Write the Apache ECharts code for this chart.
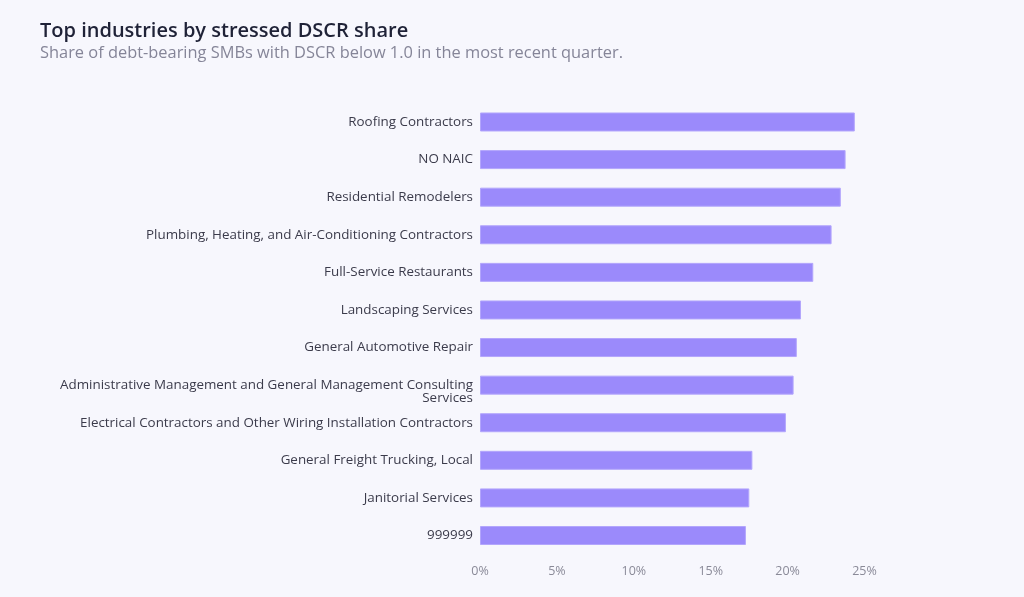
<!DOCTYPE html>
<html><head><meta charset="utf-8">
<script src="https://cdn.jsdelivr.net/npm/echarts@6/dist/echarts.min.js"></script>
<style>html,body{margin:0;padding:0;background:#f7f7fd;}#c{width:1024px;height:597px;}</style>
</head><body><div id="c"></div>
<script>
const categories = ["Roofing Contractors","NO NAIC","Residential Remodelers","Plumbing, Heating, and Air-Conditioning Contractors","Full-Service Restaurants","Landscaping Services","General Automotive Repair","Administrative Management and General Management Consulting\nServices","Electrical Contractors and Other Wiring Installation Contractors","General Freight Trucking, Local","Janitorial Services","999999"];
const shares = [24.37,23.77,23.46,22.86,21.67,20.87,20.6,20.39,19.89,17.71,17.51,17.29];
const xTicks = [0,5,10,15,20,25];

const chart = echarts.init(document.getElementById('c'), null, {renderer:'canvas'});
chart.setOption({
  backgroundColor:'#f7f7fd',
  animation:false,
  title:[
    {text:'Top industries by stressed DSCR share', left:40, top:21, padding:0,
     textStyle:{fontFamily:'Open Sans', fontSize:20, fontWeight:600, color:'#1f2237'}},
    {text:'Share of debt-bearing SMBs with DSCR below 1.0 in the most recent quarter.', left:40, top:45, padding:0,
     textStyle:{fontFamily:'Open Sans', fontSize:16.4, fontWeight:'normal', color:'#858598'}}
  ],
  grid:{left:480, right:159.5, top:103.2, bottom:597-554.3, containLabel:false},
  xAxis:{type:'value', min:0, max:25, interval:5,
    axisLine:{show:false}, axisTick:{show:false}, splitLine:{show:false},
    axisLabel:{formatter:v=>v+'%', color:'#8a8a98', fontFamily:'Open Sans', fontSize:12.5, margin:11}},
  yAxis:{type:'category', inverse:true, data:categories,
    axisLine:{show:false}, axisTick:{show:false},
    axisLabel:{color:'#3b3b4b', fontFamily:'Open Sans', fontSize:13.4, margin:7, lineHeight:13, align:'right',
      formatter:v => v.indexOf('\n') >= 0 ? '\n' + v : v}},
  series:[{type:'bar', data:shares, barWidth:19,
    itemStyle:{color:'#9b8afb', borderColor:'#b3a6fc', borderWidth:1}}]
});
</script></body></html>
